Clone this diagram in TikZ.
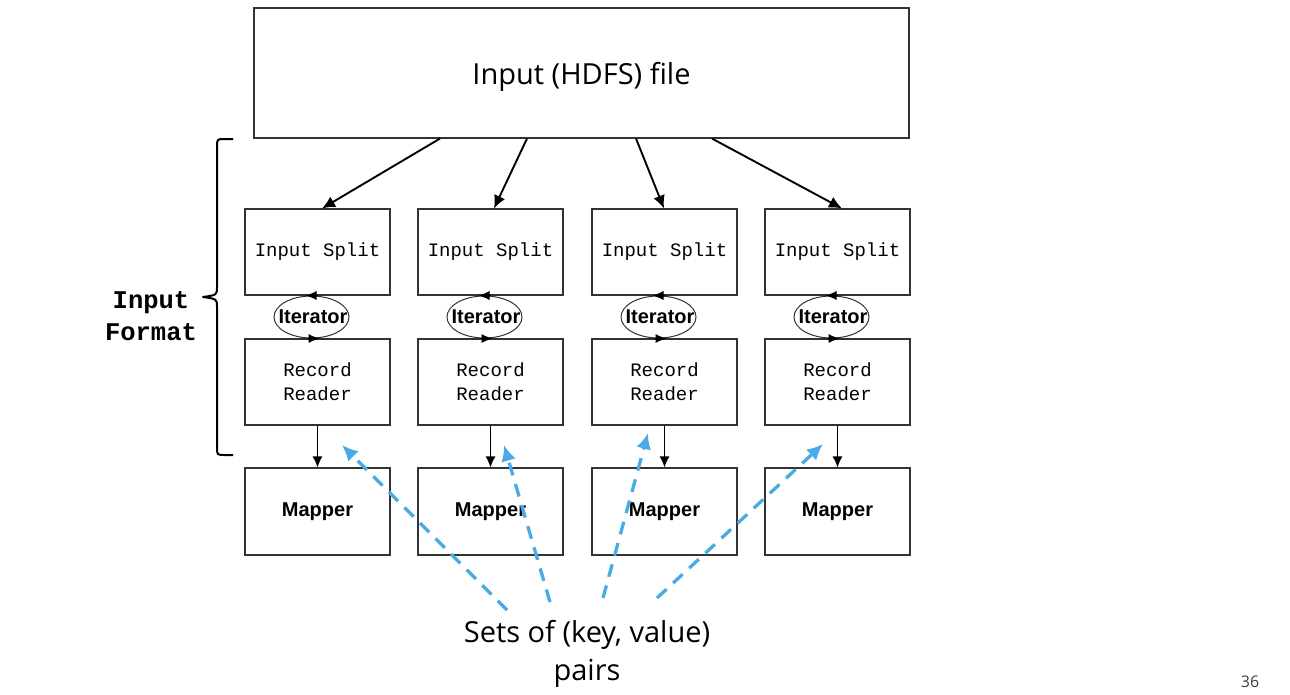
\documentclass[tikz,border=0pt]{standalone}
\usepackage{fontspec}
\setmainfont{Open Sans}
\newfontfamily\monof{Liberation Mono}
\newfontfamily\arialf{Liberation Sans}
\usetikzlibrary{arrows.meta,shapes.geometric}
\definecolor{keyblue}{HTML}{4AAAE6}
\definecolor{boxline}{HTML}{333333}
\begin{document}
\begin{tikzpicture}[x=1pt,y=-1pt,
  box/.style={draw=boxline, line width=1.1pt, minimum width=145pt, minimum height=86pt, inner sep=0pt, align=center},
  monotext/.style={font=\monof\fontsize{19}{24}\selectfont},
  boldtext/.style={font=\arialf\bfseries\fontsize{20}{24}\selectfont},
  itshape/.style={draw=boxline, line width=1pt, ellipse, minimum width=75pt, minimum height=42pt, inner sep=0pt},
  ittext/.style={inner sep=0pt, font=\arialf\bfseries\fontsize{20}{22}\selectfont},
  toparr/.style={draw=black, line width=1.9pt, -{Latex[length=13pt,width=12pt]}},
  smallarr/.style={draw=black, line width=1.3pt, -{Latex[length=11pt,width=10pt]}},
  itarr/.style={draw=black, line width=1pt, -{Latex[length=11pt,width=9pt]}},
  keyarr/.style={draw=keyblue, line width=3.3pt, dash pattern=on 13pt off 9pt, -{Latex[length=16pt,width=15pt]}}
]
\useasboundingbox (0,0) rectangle (1290,694);
\fill[white] (0,0) rectangle (1290,694);

% top file box
\node[draw=boxline, line width=1.1pt, minimum width=655pt, minimum height=130pt, inner sep=0pt] (top) at (581.5,73) {};
\node[font=\fontsize{29}{34}\selectfont] (toplabel) at (581.5,77) {Input (HDFS) file};

% columns
\foreach \i/\cx in {1/317.5, 2/490.5, 3/664.5, 4/837.5}{
  \node[box, monotext] (s\i) at (\cx,252) {Input Split};
  \node[box, monotext] (r\i) at (\cx,382) {Record\\Reader};
  \node[box, boldtext, minimum height=87pt] (m\i) at (\cx,511.5) {Mapper};
  \node[itshape] (it\i) at ([xshift=-6pt]\cx,317) {};
  \node[ittext] (itl\i) at ([xshift=1.5pt]it\i.center) {Iterator};
  \draw[itarr] ([xshift=6pt]it\i.north) -- ([xshift=-6pt]it\i.north);
  \draw[itarr] ([xshift=-5pt]it\i.south) -- ([xshift=8pt]it\i.south);
  \draw[smallarr] (r\i) -- (m\i);
}

% arrows from file to splits
\draw[toparr] ([xshift=-141.5pt]top.south) -- ([xshift=4.5pt]s1.north);
\draw[toparr] ([xshift=-54.5pt]top.south) -- ([xshift=3.5pt]s2.north);
\draw[toparr] ([xshift=54.5pt]top.south) -- ([xshift=-0.5pt]s3.north);
\draw[toparr] ([xshift=130.5pt]top.south) -- ([xshift=4.5pt]s4.north);

% brace
\draw[line width=2pt, line join=round] (233,139) -- (225,139) .. controls (217,139) .. (217,147)
  -- (217,287) .. controls (217,295) .. (203,297) .. controls (217,299) .. (217,307)
  -- (217,447) .. controls (217,455) .. (225,455) -- (233,455);
\node[font=\monof\bfseries\fontsize{25.5}{32}\selectfont, align=center] (fmt) at (151,316) {Input\\Format};

% key/value label
\node[font=\fontsize{29}{38}\selectfont, align=center] (sets) at (587,654) {Sets of (key, value)\\pairs};
\coordinate (k1s) at (507,610);
\coordinate (k2s) at (550,602);
\coordinate (k3s) at (603,598);
\coordinate (k4s) at (657,598);
\coordinate (k1e) at (342,445);
\coordinate (k2e) at (504,445);
\coordinate (k3e) at (648,433);
\coordinate (k4e) at (823,444);
\draw[keyarr] (k1s) -- (k1e);
\draw[keyarr] (k2s) -- (k2e);
\draw[keyarr] (k3s) -- (k3e);
\draw[keyarr] (k4s) -- (k4e);

% page number
\node[font=\fontsize{16}{18}\selectfont, text=black!75] (pg) at (1250,682) {36};
\end{tikzpicture}
\end{document}
